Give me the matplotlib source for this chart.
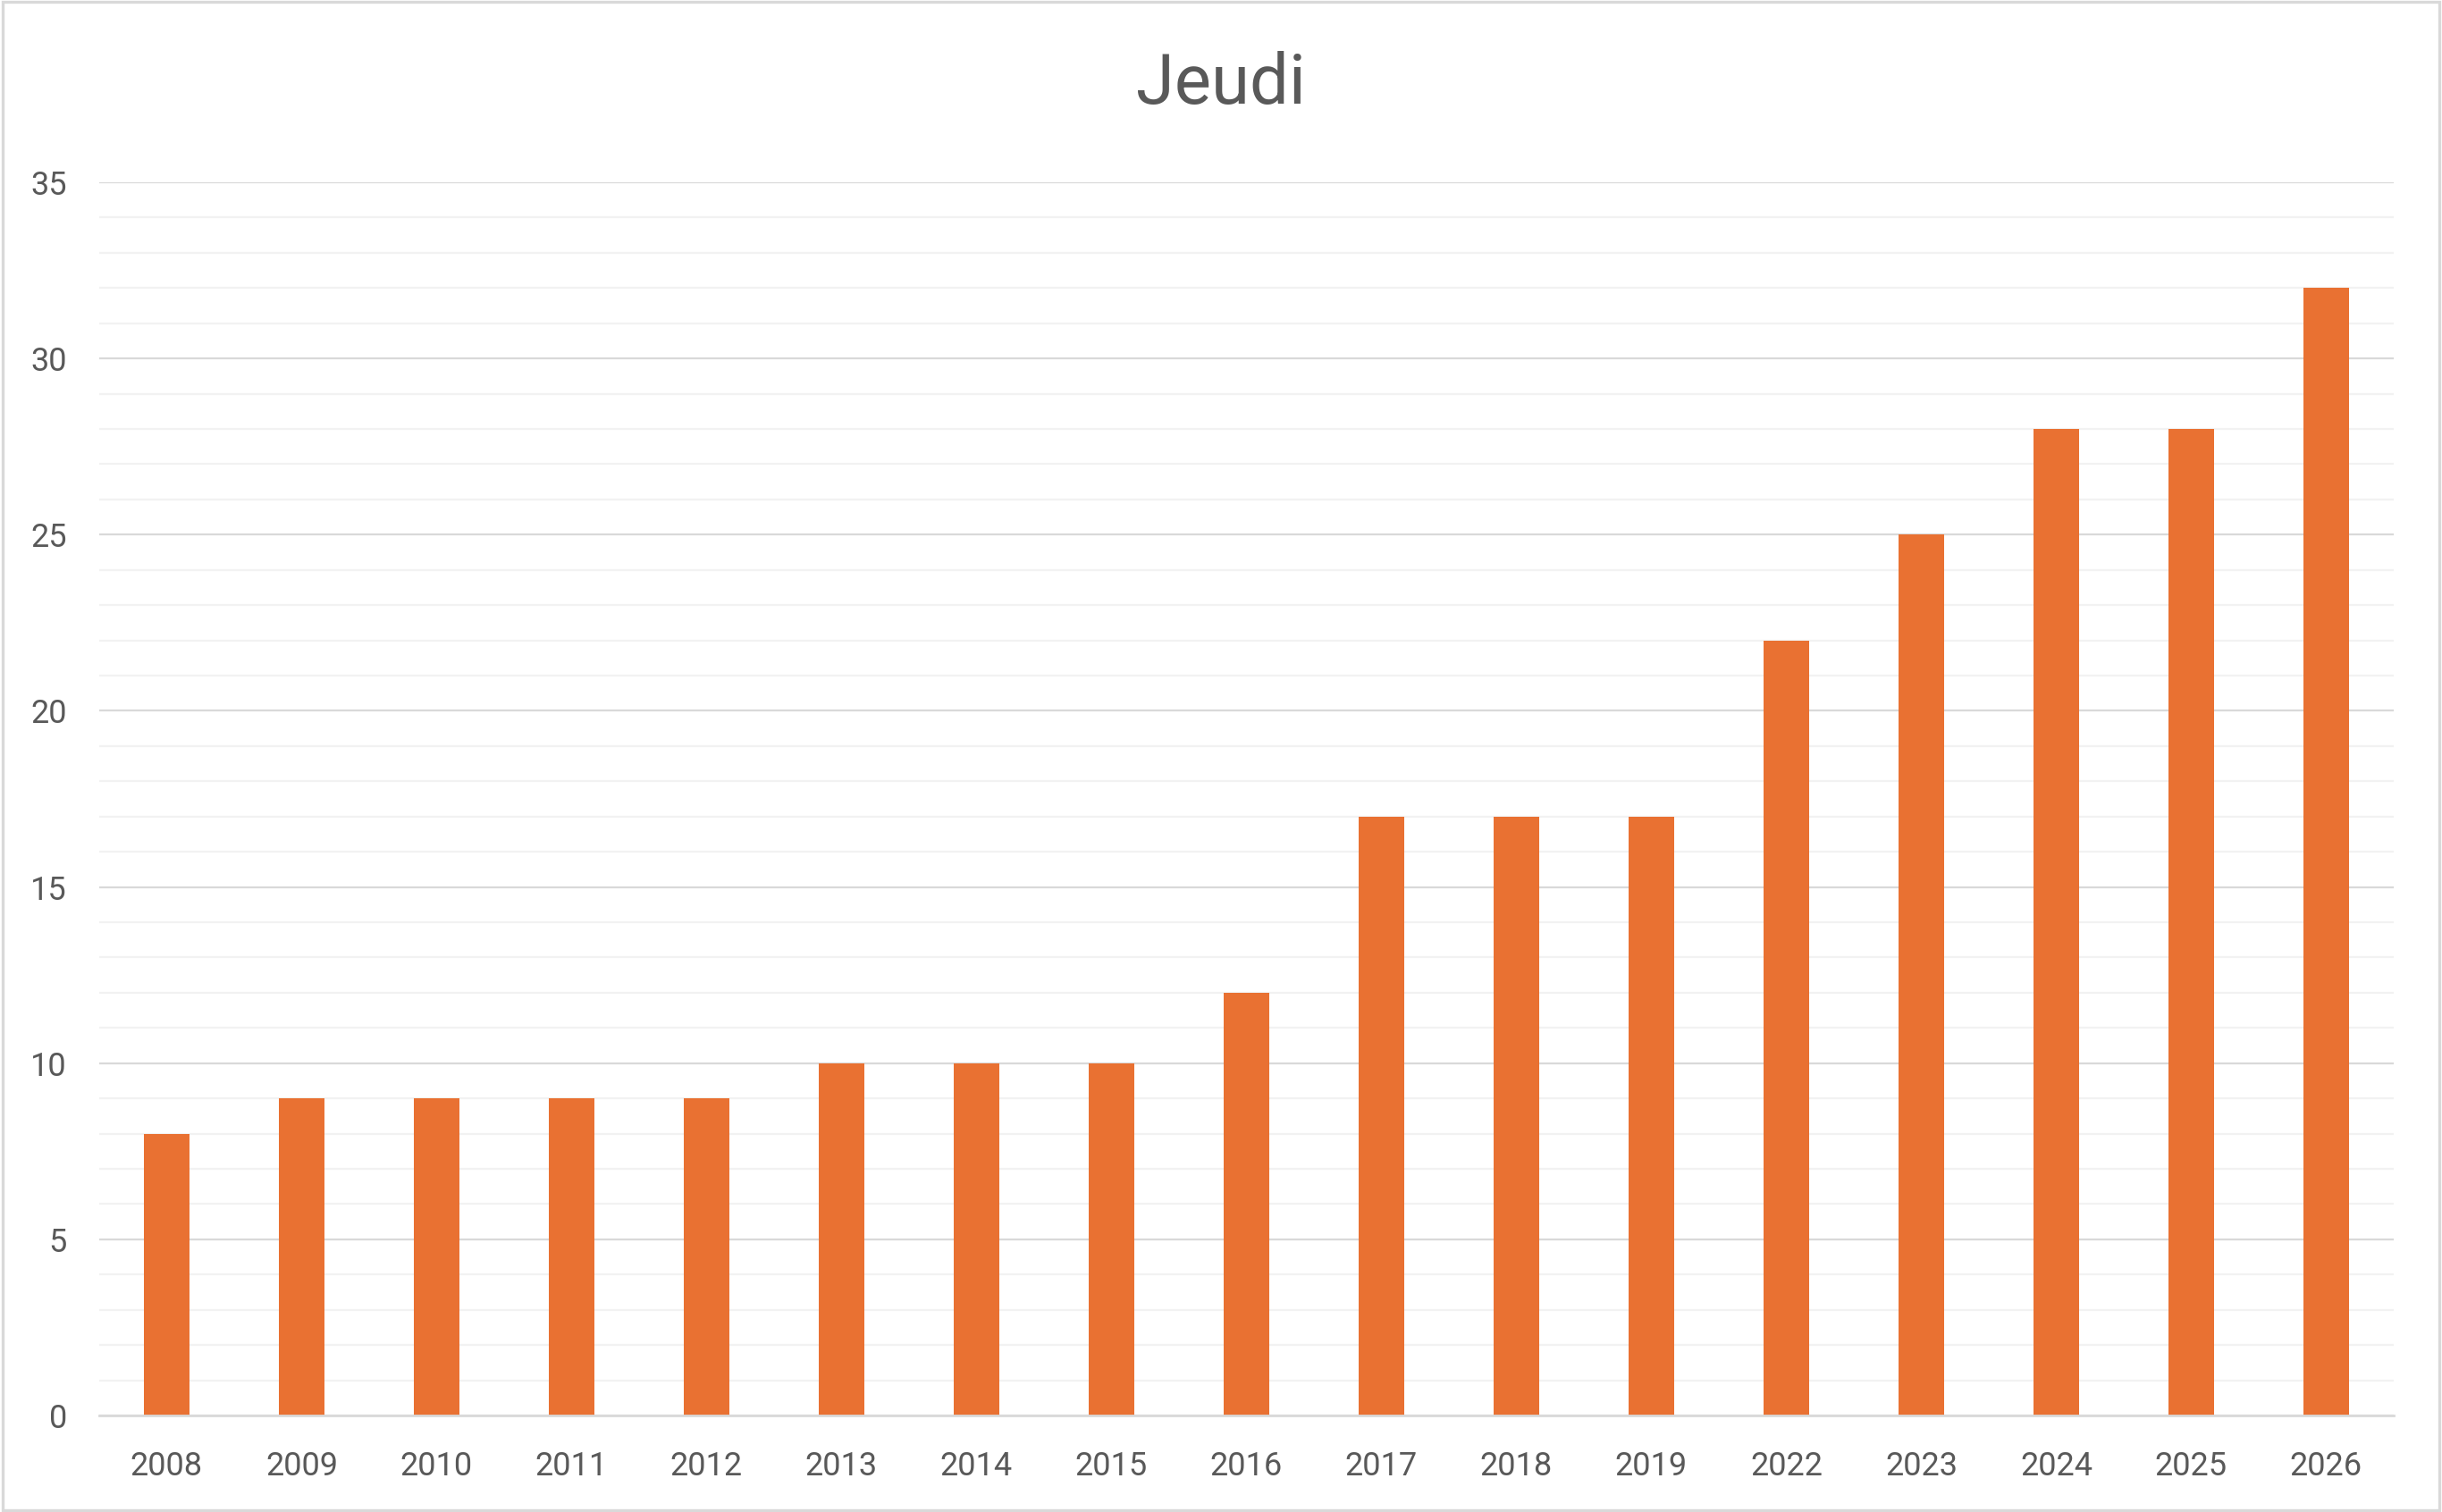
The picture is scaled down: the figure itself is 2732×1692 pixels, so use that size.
"""Recreate the 'Jeudi' column chart."""

import matplotlib

matplotlib.use("Agg")

import matplotlib.pyplot as plt
from matplotlib.patches import Rectangle
from matplotlib.ticker import MultipleLocator
import numpy as np

years = ["2008", "2009", "2010", "2011", "2012", "2013", "2014", "2015", "2016",
         "2017", "2018", "2019", "2022", "2023", "2024", "2025", "2026"]
counts = [8, 9, 9, 9, 9, 10, 10, 10, 12, 17, 17, 17, 22, 25, 28, 28, 32]

BAR_COLOR = "#E97132"
TEXT_COLOR = "#595959"

plt.rcParams["font.family"] = ["Roboto", "DejaVu Sans"]

fig = plt.figure(figsize=(13.66, 8.46), dpi=200)
ax = fig.add_axes([0.0406, 0.0638, 0.9396, 0.8156])

x = np.arange(len(years))
ax.bar(x, counts, width=0.335, color=BAR_COLOR, zorder=3)

ax.set_xlim(-0.5, len(years) - 0.5)
ax.set_ylim(0, 35)
ax.yaxis.set_major_locator(MultipleLocator(5))
ax.yaxis.set_minor_locator(MultipleLocator(1))
ax.grid(axis="y", which="major", color="#D9D9D9", linewidth=0.8, zorder=0)
ax.grid(axis="y", which="minor", color="#F2F2F2", linewidth=0.8, zorder=0)

ax.set_xticks(x)
ax.set_xticklabels(years)
ax.tick_params(axis="both", which="both", length=0, labelsize=13, labelcolor=TEXT_COLOR)
ax.tick_params(axis="x", pad=14)
ax.tick_params(axis="y", pad=13)

for side in ("top", "right", "left"):
    ax.spines[side].set_visible(False)
ax.spines["bottom"].set_color("#D9D9D9")
ax.spines["bottom"].set_linewidth(1.0)
ax.spines["bottom"].set_zorder(4)

fig.text(0.5, 0.944, "Jeudi", ha="center", va="center", fontsize=28, color=TEXT_COLOR)

fig.patches.append(Rectangle((0.001, 0.001), 0.998, 0.998, transform=fig.transFigure,
                             fill=False, edgecolor="#D9D9D9", linewidth=1.2))

fig.savefig("out.png", dpi=200)
plt.close(fig)
